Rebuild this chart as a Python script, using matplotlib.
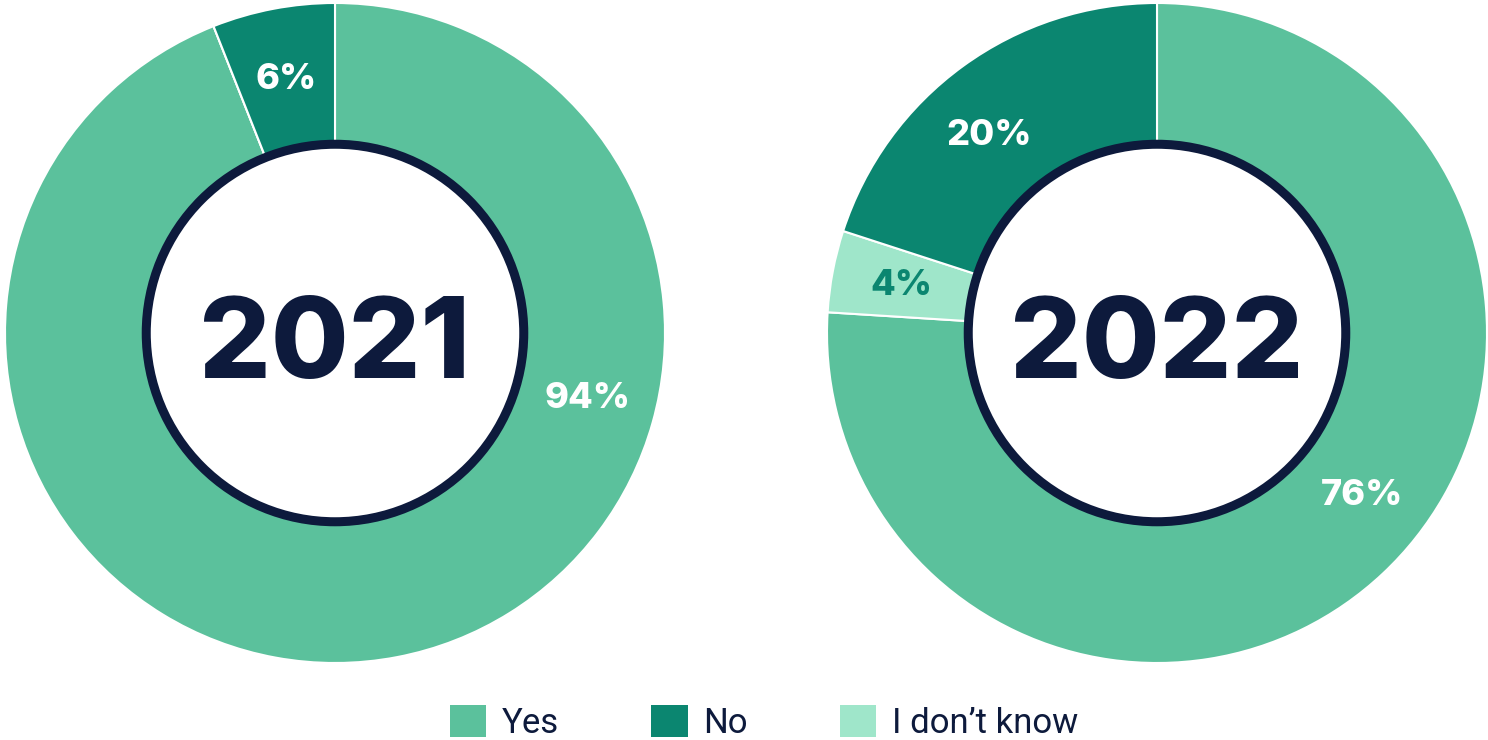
import matplotlib.pyplot as plt
from matplotlib.patches import Patch, Circle
import numpy as np

# data (slice order = clockwise from 12 o'clock, as in the original)
years = ["2021", "2022"]
categories = ["Yes", "No", "I don’t know"]
slice_cats_2021 = ["Yes", "I don’t know", "No"]
values_2021 = [94, 0, 6]
labels_2021 = ["94%", "", "6%"]
slice_cats_2022 = ["Yes", "I don’t know", "No"]
values_2022 = [76, 4, 20]
labels_2022 = ["76%", "4%", "20%"]

cat_colors = {"Yes": "#5bc19c", "No": "#0b8670", "I don’t know": "#9fe6ca"}
label_color = {"Yes": "white", "No": "white", "I don’t know": "#0b8670"}
navy = "#0d1a3c"

# label angles (deg) for each slice, picked to match the original layout
label_angles = {"2021": [-14, None, 100.8], "2022": [-38, 169, 130]}

W, H = 1488, 740
fig = plt.figure(figsize=(W / 100, H / 100), dpi=100)


def donut(ax, year, cats, values, labels):
    ax.pie(values, colors=[cat_colors[c] for c in cats], startangle=90, counterclock=False,
           radius=1.0, wedgeprops=dict(width=0.44, edgecolor="white", linewidth=1.5))
    ax.add_patch(Circle((0, 0), 0.572, facecolor="white", edgecolor=navy,
                        linewidth=6.5, zorder=5))
    # year in the middle, baseline placed so the digits sit centred
    ax.text(0, -0.136, year, ha="center", va="baseline", fontsize=81, fontweight="heavy",
            color=navy, fontfamily="Inter", zorder=6)
    for cat, lab, ang in zip(cats, labels, label_angles[year]):
        if not lab or ang is None:
            continue
        r = 0.79
        x = r * np.cos(np.radians(ang))
        y = r * np.sin(np.radians(ang))
        ax.text(x, y - 0.036, lab, ha="center", va="baseline", fontsize=26,
                fontweight="heavy", color=label_color[cat], fontfamily="Inter", zorder=6)
    ax.set_xlim(-1, 1)
    ax.set_ylim(-1, 1)
    ax.set_aspect("equal")
    ax.axis("off")


size = 660
ax1 = fig.add_axes([5 / W, (H - 663) / H, size / W, size / H])
ax2 = fig.add_axes([827 / W, (H - 663) / H, size / W, size / H])
donut(ax1, years[0], slice_cats_2021, values_2021, labels_2021)
donut(ax2, years[1], slice_cats_2022, values_2022, labels_2022)

handles = [Patch(facecolor=cat_colors[c], edgecolor="none") for c in categories]
fig.legend(handles, categories, loc="lower left", bbox_to_anchor=(450 / W, 0.0),
           ncol=3, frameon=False, handlelength=1.05, handleheight=1.05,
           handletextpad=0.45, columnspacing=2.65, borderpad=0, borderaxespad=0,
           labelcolor=navy, prop={"family": "Roboto", "size": 25})

fig.savefig("out.png", dpi=100, facecolor="white")
